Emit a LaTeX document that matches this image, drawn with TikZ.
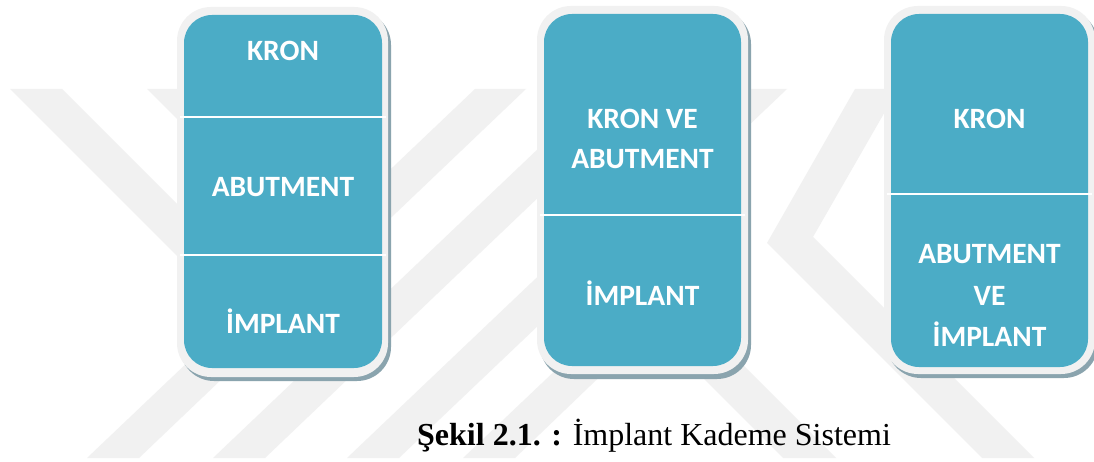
\documentclass[tikz,border=0pt]{standalone}
\usepackage{fontspec}
\setmainfont{Liberation Serif}
\newfontfamily\calib{Carlito}
\definecolor{tealc}{RGB}{75,172,198}
\definecolor{rimc}{RGB}{241,241,241}
\definecolor{shadc}{RGB}{138,164,174}
\definecolor{wmgray}{RGB}{241,241,241}
\begin{document}
\begin{tikzpicture}[x=1pt,y=-1pt,
  wm/.style={fill=wmgray},
  shad/.style={fill=shadc, rounded corners=34pt},
  rimbox/.style={fill=rimc, rounded corners=34pt},
  tealbox/.style={fill=tealc, rounded corners=28pt},
  divider/.style={draw=white, line width=2pt},
  lbl/.style={font=\calib\bfseries\fontsize{29.5}{35}\selectfont, text=white, anchor=base, inner sep=0pt},
  captxt/.style={font=\fontsize{32}{38}\selectfont, anchor=base west, inner sep=0pt}]
\useasboundingbox (0,0) rectangle (1094,462);
\fill[white] (0,0) rectangle (1094,462);
% watermark
\begin{scope}
\clip (0,89) rectangle (1094,458);
\fill[wm] (87,458) -- (139,458) -- (526,89) -- (475,89) -- cycle;
\fill[wm] (213,458) -- (265,458) -- (652,89) -- (601,89) -- cycle;
\fill[wm] (347,458) -- (399,458) -- (787,89) -- (735,89) -- cycle;
\fill[wm] (463,458) -- (515,458) -- (690,290) -- (640,290) -- cycle;
\fill[wm] (10,89) -- (62,89) -- (303,330) -- (251,330) -- cycle;
\fill[wm] (147,89) -- (199,89) -- (310,200) -- (258,200) -- cycle;
\fill[wm] (783,458) -- (836,458) -- (628,250) -- (575,250) -- cycle;
\fill[wm] (767,243) -- (855,89) -- (898,89) -- (813,237) -- (1034,458) -- (982,458) -- cycle;
\end{scope}
% box 1
\fill[shad] (180,11) rectangle (391,381);
\fill[rimbox] (177,7) rectangle (388,377);
\node[tealbox, minimum width=198pt, minimum height=353pt, inner sep=0pt] (b1) at (283,191.5) {};
\coordinate (d1a) at (180,117); \coordinate (d1b) at (386,117);
\coordinate (d1c) at (180,255); \coordinate (d1d) at (386,255);
\draw[divider] (d1a) -- (d1b);
\draw[divider] (d1c) -- (d1d);
\node[lbl] (t11) at (283,61) {KRON};
\node[lbl] (t12) at (283,196.5) {ABUTMENT};
\node[lbl] (t13) at (283,333) {İMPLANT};
% box 2
\fill[shad] (540,10) rectangle (751,379);
\fill[rimbox] (537,6) rectangle (748,374);
\node[tealbox, minimum width=197pt, minimum height=352pt, inner sep=0pt] (b2) at (642.5,190) {};
\coordinate (d2a) at (540,215); \coordinate (d2b) at (745,215);
\draw[divider] (d2a) -- (d2b);
\node[lbl] (t21) at (642.5,128.5) {KRON VE};
\node[lbl] (t22) at (642.5,168.5) {ABUTMENT};
\node[lbl] (t23) at (642.5,305.5) {İMPLANT};
% box 3
\fill[shad] (887,10) rectangle (1098,378);
\fill[rimbox] (884,6) rectangle (1095,374);
\node[tealbox, minimum width=197pt, minimum height=353pt, inner sep=0pt] (b3) at (989.5,190.5) {};
\coordinate (d3a) at (887,194); \coordinate (d3b) at (1092,194);
\draw[divider] (d3a) -- (d3b);
\node[lbl] (t31) at (989.5,128.5) {KRON};
\node[lbl] (t32) at (989.5,264) {ABUTMENT};
\node[lbl] (t33) at (989.5,305) {VE};
\node[lbl] (t34) at (989.5,346) {İMPLANT};
% caption
\node[captxt] (capt) at (417,445) {\textbf{Şekil 2.1. :} İmplant Kademe Sistemi};
\end{tikzpicture}
\end{document}
